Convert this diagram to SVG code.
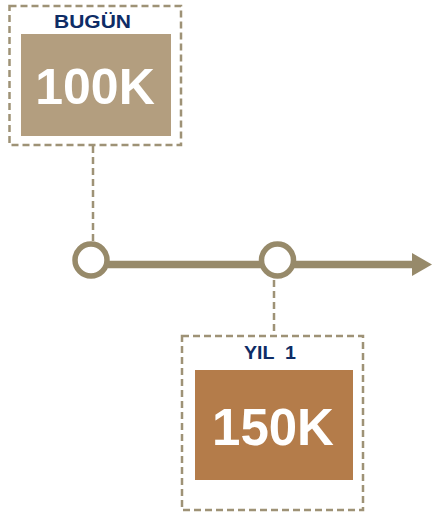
<svg xmlns="http://www.w3.org/2000/svg" width="432" height="514" viewBox="0 0 432 514">
  <style>
    .frame { fill: none; stroke: #9E9276; stroke-width: 2.5; stroke-dasharray: 7 4; }
    .link { fill: none; stroke: #9E9276; stroke-width: 2.5; stroke-dasharray: 7 4; }
    .axis { stroke: #978A6A; stroke-width: 7.5; fill: none; }
    .dot { fill: #FFFFFF; stroke: #978A6A; stroke-width: 5.5; }
    .label { font-family: "Liberation Sans", Arial, sans-serif; font-weight: bold; fill: #0E2C66; }
    .value { font-family: "Liberation Sans", Arial, sans-serif; font-weight: bold; fill: #FFFFFF; text-anchor: middle; }
  </style>

  <!-- connectors -->
  <g id="connectors">
    <line class="link" x1="93" y1="146" x2="93" y2="242"/>
    <line class="link" x1="274" y1="280" x2="274" y2="336"/>
    <line class="axis" x1="108" y1="264.5" x2="414" y2="264.5"/>
    <polygon points="412,253 432,264.5 412,276" fill="#978A6A"/>
  </g>

  <!-- timeline points -->
  <g id="point-today">
    <circle class="dot" cx="91" cy="260" r="16"/>
  </g>
  <g id="point-year1">
    <circle class="dot" cx="277.5" cy="260" r="16"/>
  </g>

  <!-- today card -->
  <g id="card-today">
    <rect class="frame" x="9.5" y="6" width="171.5" height="139"/>
    <text class="label" x="54" y="28.3" font-size="17.5" textLength="77" lengthAdjust="spacingAndGlyphs">BUGÜN</text>
    <rect x="21" y="34" width="150" height="102" fill="#B39E7F"/>
    <text class="value" x="95" y="104" font-size="50">100K</text>
  </g>

  <!-- year 1 card -->
  <g id="card-year1">
    <rect class="frame" x="182" y="336" width="181" height="174"/>
    <text class="label" x="244" y="359.3" font-size="17.5" textLength="52" lengthAdjust="spacingAndGlyphs" xml:space="preserve">YIL  1</text>
    <rect x="195" y="370" width="158" height="110" fill="#B47C4A"/>
    <text class="value" x="273" y="445" font-size="51">150K</text>
  </g>
</svg>
